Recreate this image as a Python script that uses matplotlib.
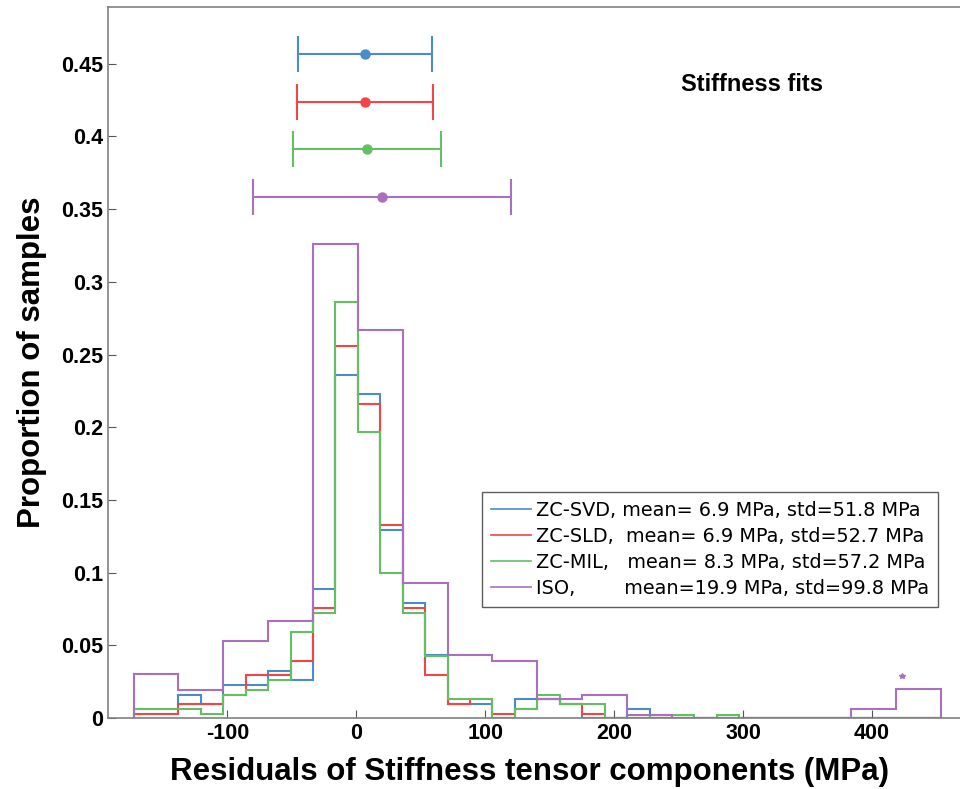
import numpy as np
import matplotlib
matplotlib.use('Agg')
import matplotlib.pyplot as plt

plt.rcParams['font.family'] = ['Liberation Sans', 'DejaVu Sans']
plt.rcParams['axes.unicode_minus'] = False

# Histogram bin edges (MPa)
edges_zc = np.linspace(-172.8, 453.6, 37)    # 36 bins for the ZC fits
edges_iso = np.linspace(-172.8, 453.6, 19)   # 18 bins for ISO

# Proportion of samples per bin
svd = [0.006, 0.006, 0.016, 0.0094, 0.0227, 0.0227, 0.0326, 0.026, 0.089,
       0.236, 0.2225, 0.1295, 0.0793, 0.043, 0.0094, 0.0094, 0.0, 0.0128,
       0.0128, 0.0094, 0.0, 0.0, 0.006, 0.0, 0.0, 0.0, 0.0, 0.0, 0.0, 0.0,
       0.0, 0.0, 0.0, 0.0, 0.0, 0.0]
sld = [0.0025, 0.0025, 0.0094, 0.0094, 0.016, 0.0293, 0.0293, 0.0394, 0.0759,
       0.256, 0.216, 0.133, 0.0759, 0.0293, 0.0094, 0.0128, 0.0025, 0.006,
       0.0128, 0.0094, 0.0025, 0.0, 0.0, 0.0, 0.0, 0.0, 0.0, 0.0, 0.0, 0.0,
       0.0, 0.0, 0.0, 0.0, 0.0, 0.0]
mil = [0.006, 0.006, 0.006, 0.0025, 0.016, 0.0193, 0.026, 0.0594, 0.0724,
       0.286, 0.1965, 0.0995, 0.0724, 0.0426, 0.0128, 0.0128, 0.0, 0.006,
       0.016, 0.0094, 0.0094, 0.0, 0.0, 0.002, 0.002, 0.0, 0.002, 0.0, 0.0,
       0.0, 0.0, 0.0, 0.0, 0.0, 0.0, 0.0]
iso = [0.030, 0.0193, 0.053, 0.0667, 0.326, 0.2666, 0.093, 0.043, 0.0395,
       0.0128, 0.0158, 0.0023, 0.0, 0.0, 0.0, 0.0, 0.006, 0.0197]

# Summary statistics (MPa) and the heights where the error bars sit
means = [6.9, 6.9, 8.3, 19.9]
stds = [51.8, 52.7, 57.2, 99.8]
errbar_y = [0.4565, 0.4234, 0.391, 0.358]
colors = ['#4a8bc9', '#f04646', '#62bf62', '#a970bb']
labels = ['ZC-SVD, mean= 6.9 MPa, std=51.8 MPa',
          'ZC-SLD,  mean= 6.9 MPa, std=52.7 MPa',
          'ZC-MIL,   mean= 8.3 MPa, std=57.2 MPa',
          'ISO,        mean=19.9 MPa, std=99.8 MPa']

# lone outlier marker drawn above the last ISO bin
star_x, star_y = 423.5, 0.0289

xticks = [-100, 0, 100, 200, 300, 400]
yticks = [0, 0.05, 0.1, 0.15, 0.2, 0.25, 0.3, 0.35, 0.4, 0.45]
yticklabels = ['0', '0.05', '0.1', '0.15', '0.2', '0.25', '0.3', '0.35', '0.4', '0.45']

fig = plt.figure(figsize=(9.6, 7.89), dpi=100)
ax = fig.add_axes([108 / 960, 71 / 789, 872 / 960, 710.7 / 789])

series = [(svd, edges_zc), (sld, edges_zc), (mil, edges_zc), (iso, edges_iso)]
for (vals, edges), c, lab in zip(series, colors, labels):
    ax.stairs(vals, edges, baseline=0, color=c, linewidth=1.5, label=lab)

for m, s, y, c in zip(means, stds, errbar_y, colors):
    ax.errorbar(m, y, xerr=s, fmt='o', color=c, markersize=6.5,
                elinewidth=1.5, capsize=13, capthick=1.5)

ax.plot(star_x, star_y, '*', color=colors[3], markersize=4)

ax.text(307, 0.436, 'Stiffness fits', fontsize=17, fontweight='bold',
        ha='center', va='center')

ax.set_xlim(-192.6, 483.7)
ax.set_ylim(0, 0.4888)
ax.set_xticks(xticks)
ax.set_yticks(yticks)
ax.set_yticklabels(yticklabels)
ax.tick_params(direction='in', length=6, color='#555555', labelsize=15.5)
for lab in ax.get_xticklabels() + ax.get_yticklabels():
    lab.set_fontweight('bold')
for sp in ax.spines.values():
    sp.set_color('#808080')
    sp.set_linewidth(1.2)

ax.set_xlabel('Residuals of Stiffness tensor components (MPa)', fontsize=22.5,
              fontweight='bold')
ax.xaxis.set_label_coords(0.483, -0.055)
ax.set_ylabel('Proportion of samples', fontsize=22.5, fontweight='bold', labelpad=10)

leg = ax.legend(loc='upper left', bbox_to_anchor=(482 / 960, 1 - 492 / 789),
                bbox_transform=fig.transFigure, borderaxespad=0,
                prop={'family': 'DejaVu Sans', 'size': 13.9},
                fancybox=False, edgecolor='#333333', handlelength=2.1,
                handletextpad=0.25, labelspacing=0.37, borderpad=0.45)
leg.get_frame().set_linewidth(1.0)
for h in leg.get_lines():
    h.set_linewidth(1.2)

fig.savefig('out.png', dpi=100)
